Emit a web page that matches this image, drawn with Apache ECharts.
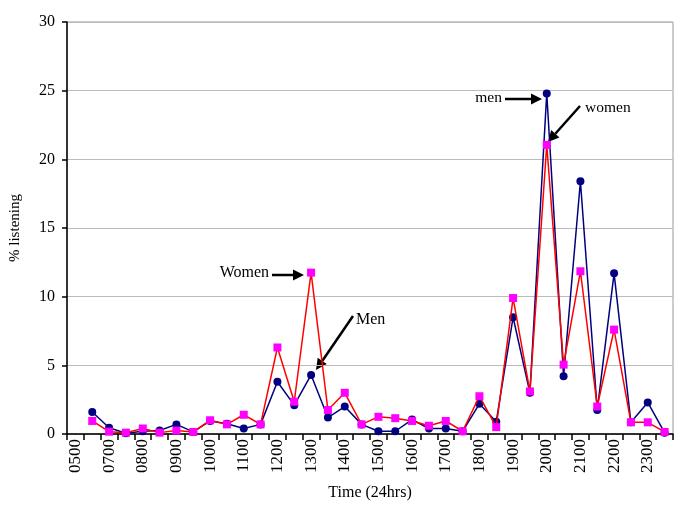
<!DOCTYPE html>
<html>
<head>
<meta charset="utf-8">
<script src="https://cdn.jsdelivr.net/npm/echarts@6/dist/echarts.min.js"></script>
<style>html,body{margin:0;padding:0;background:#fff;}#c{width:685px;height:517px;}</style>
</head>
<body>
<div id="c"></div>
<script>
var categories = ["0500","0630","0700","0730","0800","0830","0900","0930","1000","1030","1100","1130","1200","1230","1300","1330","1400","1430","1500","1530","1600","1630","1700","1730","1800","1830","1900","1930","2000","2030","2100","2130","2200","2230","2300","2330"];
var menValues = [null,1.6,0.45,0.05,0.2,0.25,0.7,0.15,0.95,0.75,0.4,0.7,3.8,2.1,4.3,1.2,2.0,0.7,0.2,0.2,1.05,0.4,0.4,0.2,2.2,0.9,8.5,3.0,24.8,4.2,18.4,1.75,11.7,0.85,2.3,0.1];
var womenValues = [null,0.95,0.17,0.1,0.4,0.1,0.25,0.15,1.0,0.7,1.4,0.7,6.3,2.35,11.75,1.75,3.0,0.7,1.25,1.15,0.95,0.6,0.95,0.2,2.75,0.5,9.9,3.1,21.05,5.05,11.85,2.0,7.6,0.85,0.85,0.15];
var yTicks = [0,5,10,15,20,25,30];

var serif = "Liberation Serif";
function arrow(x1,y1,x2,y2){
  var dx=x2-x1, dy=y2-y1, L=Math.sqrt(dx*dx+dy*dy), ux=dx/L, uy=dy/L;
  var hl=11, hw=5.5;
  var bx=x2-ux*hl, by=y2-uy*hl;
  return [
    {type:'line', shape:{x1:x1,y1:y1,x2:bx,y2:by}, style:{stroke:'#000',lineWidth:2.5}},
    {type:'polygon', shape:{points:[[x2,y2],[bx-uy*hw,by+ux*hw],[bx+uy*hw,by-ux*hw]]}, style:{fill:'#000'}}
  ];
}
function label(x,y,t,align,size){
  return {type:'text', x:x, y:y, style:{text:t, font:size+'px "'+serif+'"', fill:'#000', textAlign:align, textVerticalAlign:'middle'}};
}
var graphics = [].concat(
  arrow(272,275,304,275), [label(269,273,'Women','right',16)],
  arrow(353,316,316,370), [label(356,320,'Men','left',16)],
  arrow(505,99,542,99), [label(502,98,'men','right',15.5)],
  arrow(580,106,548,142), [label(585,108,'women','left',15.5)]
);

var chart = echarts.init(document.getElementById('c'), null, {renderer:'canvas'});
chart.setOption({
  animation:false,
  backgroundColor:'#fff',
  grid:{left:63, right:12, top:22, bottom:83, show:true, borderColor:'#999', borderWidth:1},
  xAxis:{
    type:'category', data:categories, boundaryGap:true,
    name:'Time (24hrs)', nameLocation:'middle', nameGap:51,
    nameTextStyle:{fontFamily:serif, fontSize:16, color:'#000'},
    axisLine:{lineStyle:{color:'#000', width:1.5}},
    axisTick:{show:true, interval:0, length:6, lineStyle:{color:'#000', width:1.5}},
    axisLabel:{interval:1, rotate:90, fontFamily:serif, fontSize:17, color:'#000', margin:5},
    splitLine:{show:false}
  },
  yAxis:{
    type:'value', min:yTicks[0], max:yTicks[yTicks.length-1], interval:5,
    name:'% listening', nameLocation:'middle', nameGap:44,
    nameTextStyle:{fontFamily:serif, fontSize:15, color:'#000'},
    axisLine:{show:true, lineStyle:{color:'#000', width:1.5}},
    axisTick:{show:true, length:5, lineStyle:{color:'#000', width:1.5}},
    axisLabel:{fontFamily:serif, fontSize:16, color:'#000', margin:12},
    splitLine:{show:true, lineStyle:{color:'#bbb', width:1}}
  },
  series:[
    {name:'Men', type:'line', data:menValues, symbol:'circle', symbolSize:8,
     itemStyle:{color:'#000080'}, lineStyle:{color:'#000080', width:1.5}, z:2},
    {name:'Women', type:'line', data:womenValues, symbol:'rect', symbolSize:8,
     itemStyle:{color:'#ff00ff'}, lineStyle:{color:'#ff0000', width:1.5}, z:3}
  ],
  graphic:graphics
});
</script>
</body>
</html>
